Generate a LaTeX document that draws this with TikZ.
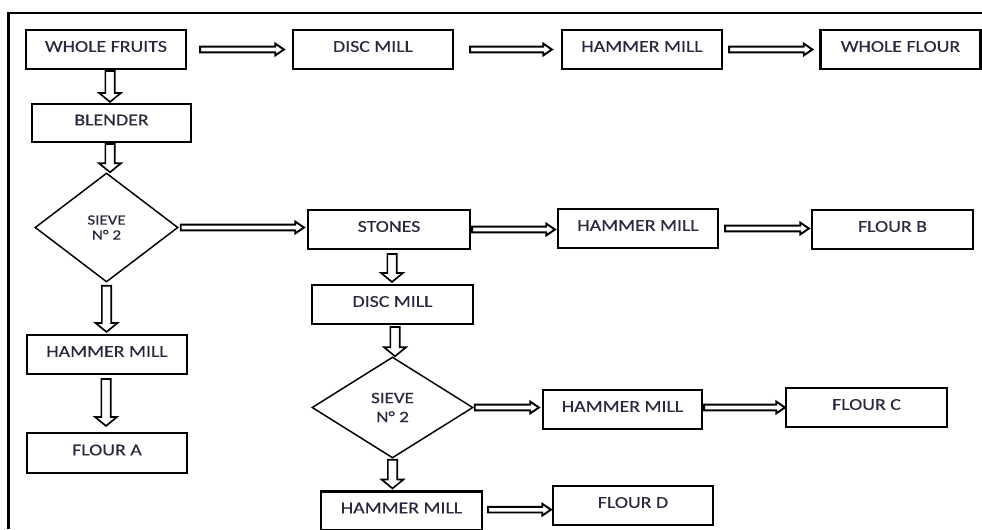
\documentclass[tikz,border=0pt]{standalone}
\usepackage{fontspec}
\setmainfont[FakeStretch=1.2,FakeBold=0.35]{Carlito}
\usetikzlibrary{shapes.geometric,calc}
\definecolor{txtc}{RGB}{40,40,62}
% horizontal hollow arrow: source anchor, target anchor, start gap, end gap
\newcommand{\harr}[4]{%
  \draw[harrowst] let \p1=(#1), \p2=(#2) in
    ({\x1+#3},{\y1+2.1pt}) -- ({\x2-#4-6.5pt},{\y1+2.1pt}) -- ({\x2-#4-6.5pt},{\y1+4.4pt})
    -- ({\x2-#4},{\y1}) -- ({\x2-#4-6.5pt},{\y1-4.4pt}) -- ({\x2-#4-6.5pt},{\y1-2.1pt})
    -- ({\x1+#3},{\y1-2.1pt}) -- cycle;}
% vertical hollow arrow: source anchor, target anchor, start gap, end gap, x offset
\newcommand{\varr}[5]{%
  \draw[varrowst] let \p1=(#1), \p2=(#2) in
    ({\x1+(#5)-3.5pt},{\y1-#3}) -- ({\x1+(#5)-3.5pt},{\y2+#4+6.75pt})
    -- ({\x1+(#5)-8.25pt},{\y2+#4+6.75pt}) -- ({\x1+(#5)},{\y2+#4})
    -- ({\x1+(#5)+8.25pt},{\y2+#4+6.75pt}) -- ({\x1+(#5)+3.5pt},{\y2+#4+6.75pt})
    -- ({\x1+(#5)+3.5pt},{\y1-#3}) -- cycle;}
\begin{document}
\begin{tikzpicture}[x=0.75pt,y=-0.75pt,
  box/.style={draw=black, line width=1.6pt, fill=white, rectangle,
    minimum width=120pt, minimum height=29.25pt, inner sep=0pt,
    text height=8pt, text depth=4.5pt, text=txtc,
    font=\fontsize{12.4}{15}\selectfont},
  dia/.style={draw=black, line width=1.1pt, fill=white, diamond, inner sep=0pt,
    align=center, text=txtc},
  harrowst/.style={draw=black, line width=1.45pt, fill=white, line join=miter},
  varrowst/.style={draw=black, line width=1.25pt, fill=white, line join=miter}]
\useasboundingbox (0,0) rectangle (982,529);
\fill[white] (0,0) rectangle (982,529);
% outer frame (only top and left edges visible)
\draw[line width=1.6pt] (8.5,529) -- (8.5,13) -- (982,13);
% top row
\node[box] (wf)  at (106,49.5) {WHOLE FRUITS};
\node[box] (dm1) at (373,49.5) {DISC MILL};
\node[box] (hm1) at (642,49.5) {HAMMER MILL};
\node[box] (wfl) at (900.5,49.5) {WHOLE FLOUR};
% left column
\node[box, minimum width=119.25pt, minimum height=28.5pt] (bl) at (111.5,123) {BLENDER};
\node[dia, minimum width=107.25pt, minimum height=81.75pt,
  font=\fontsize{10.6}{11.25}\selectfont] (d1) at (106.5,227.5) {SIEVE\\N° 2};
\node[box] (hma) at (107,354.5) {HAMMER MILL};
\node[box, minimum height=30pt] (fla) at (107,453) {FLOUR A};
% middle rows
\node[box, minimum width=121.5pt] (st)  at (389,229.5) {STONES};
\node[box] (hmb) at (638,228.5) {HAMMER MILL};
\node[box, minimum width=120.75pt] (flb) at (892.5,229.5) {FLOUR B};
\node[box, minimum width=120.75pt] (dm2) at (392.5,304.5) {DISC MILL};
\node[dia, minimum width=120.75pt, minimum height=75.75pt,
  font=\fontsize{11.9}{14.25}\selectfont] (d2) at (392.5,407.5) {SIEVE\\N° 2};
\node[box, minimum width=119.25pt] (hmc) at (622.5,409.5) {HAMMER MILL};
\node[box, minimum width=120.75pt] (flc) at (866.5,407.5) {FLOUR C};
\begin{scope}
\clip (0,0) rectangle (982,529);
\node[box, minimum width=120.75pt] (hmd) at (401.5,511) {HAMMER MILL};
\end{scope}
\node[box] (fld) at (633,505.5) {FLOUR D};
% horizontal arrows
\harr{wf.east}{dm1.west}{9.75pt}{6pt}
\harr{dm1.east}{hm1.west}{12pt}{6.75pt}
\harr{hm1.east}{wfl.west}{4.5pt}{5.25pt}
\harr{d1.east}{st.west}{1.5pt}{2.25pt}
\harr{st.east}{hmb.west}{0.75pt}{1.5pt}
\harr{hmb.east}{flb.west}{4.5pt}{1.5pt}
\harr{d2.east}{hmc.west}{0.75pt}{2.25pt}
\harr{[yshift=1.5pt]hmc.east}{flc.west}{0.75pt}{0pt}
\harr{[yshift=1pt]hmd.east}{fld.west}{3.75pt}{0.75pt}
% vertical arrows
\varr{wf.south}{bl.north}{0.75pt}{0.75pt}{3pt}
\varr{bl.south}{d1.north}{0.75pt}{0pt}{-1.1pt}
\varr{d1.south}{hma.north}{2.25pt}{1.5pt}{0pt}
\varr{hma.south}{fla.north}{3pt}{4.5pt}{-0.75pt}
\varr{st.south}{dm2.north}{3pt}{1.5pt}{2.25pt}
\varr{dm2.south}{d2.north}{1.5pt}{0pt}{1.9pt}
\varr{d2.south}{hmd.north}{0.75pt}{1.5pt}{0pt}
\end{tikzpicture}
\end{document}
